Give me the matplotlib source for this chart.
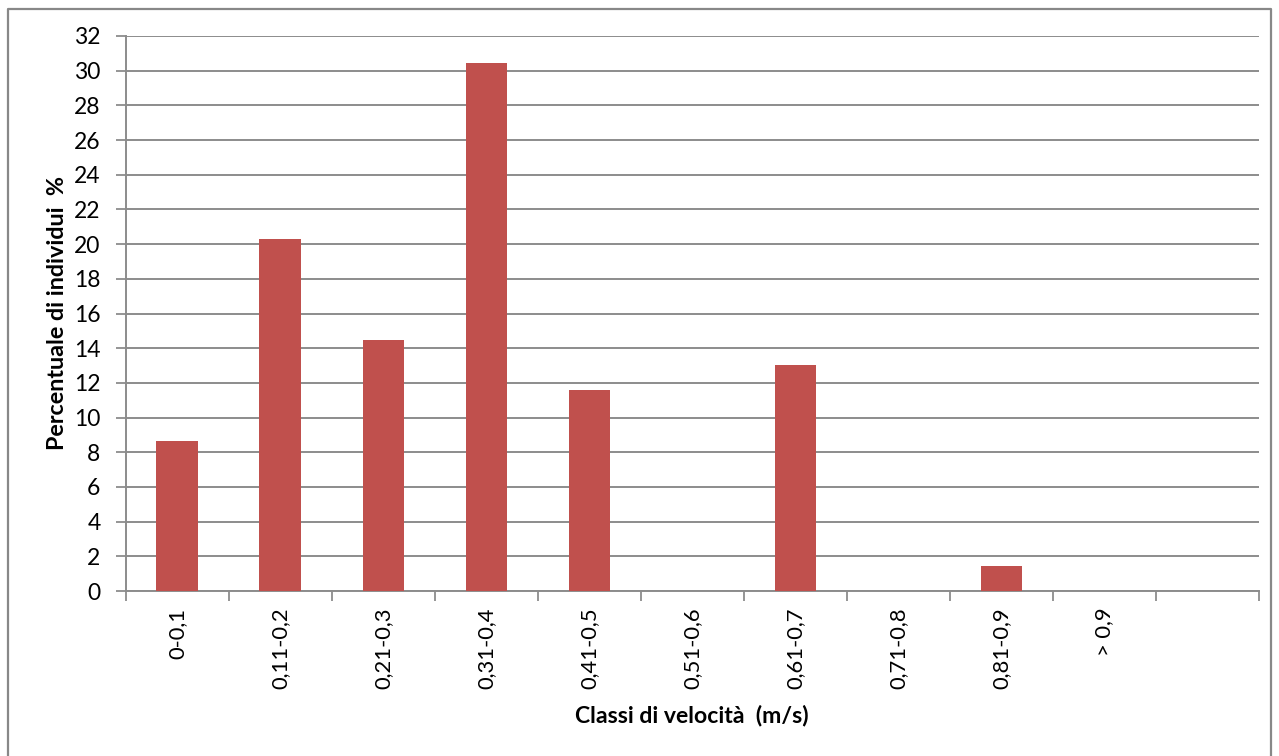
import matplotlib
matplotlib.use("Agg")
import matplotlib.pyplot as plt
from matplotlib.lines import Line2D
import numpy as np

categories = ["0-0,1", "0,11-0,2", "0,21-0,3", "0,31-0,4", "0,41-0,5",
              "0,51-0,6", "0,61-0,7", "0,71-0,8", "0,81-0,9", "> 0,9", ""]
values = [8.65, 20.3, 14.45, 30.45, 11.6, 0, 13.05, 0, 1.45, 0, 0]
yticks = list(range(0, 33, 2))

plt.rcParams['font.family'] = ['Lato', 'DejaVu Sans']

fig = plt.figure(figsize=(12.79, 7.56), dpi=100)
ax = fig.add_axes([125.5/1279, 1-591/756, (1259-125.5)/1279, (591-36)/756])

grid_c = "#8c8c8c"
x = np.arange(len(categories))
ax.bar(x, values, width=0.4, color="#c0504d", zorder=3)
ax.set_xlim(-0.5, len(categories) - 0.5)
ax.set_ylim(0, 32)
ax.set_yticks(yticks)
ax.set_yticklabels([str(t) for t in yticks], fontsize=16.5)
ax.yaxis.grid(True, color=grid_c, linewidth=1.4, zorder=0)
ax.tick_params(axis='y', length=7, width=1.3, color=grid_c, pad=11)

ax.set_xticks(x)
ax.set_xticklabels(categories, rotation=90, fontsize=15.8, va='top', ha='center')
ax.tick_params(axis='x', length=0, pad=12)
ax.set_xticks(np.arange(-0.5, len(categories) + 0.5, 1), minor=True)
ax.tick_params(axis='x', which='minor', length=7, width=1.3, color=grid_c)

for s in ['top', 'right']:
    ax.spines[s].set_visible(False)
for s in ['left', 'bottom']:
    ax.spines[s].set_color(grid_c)
    ax.spines[s].set_linewidth(1.4)

ax.set_ylabel("Percentuale di individui  %", fontsize=16.8, fontweight='bold')
ax.set_xlabel("Classi di velocità  (m/s)", fontsize=16.6, fontweight='bold')
ax.yaxis.set_label_coords(-(125.5 - 68) / (1259 - 125.5), 0.5)
ax.xaxis.set_label_coords(0.5, -(705 - 591) / (591 - 36))

# outer chart border
fig.add_artist(Line2D([8/1279, 8/1279, 1271/1279, 1271/1279],
                      [0, 1-9/756, 1-9/756, 0], transform=fig.transFigure,
                      color="#888888", linewidth=1.6))

fig.savefig("out.png", dpi=100)
